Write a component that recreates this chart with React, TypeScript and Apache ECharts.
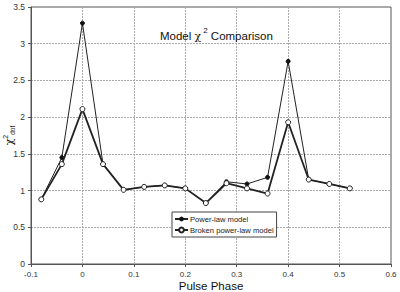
import React, { useEffect, useRef } from "react";
import * as echarts from "echarts";

const phases = [-0.08, -0.04, 0, 0.04, 0.08, 0.12, 0.16, 0.2, 0.24, 0.28, 0.32, 0.36, 0.4, 0.44, 0.48, 0.52];
const powerLaw = [0.88, 1.45, 3.28, 1.36, 1.01, 1.05, 1.07, 1.03, 0.83, 1.12, 1.09, 1.18, 2.76, 1.15, 1.09, 1.03];
const brokenPowerLaw = [0.88, 1.36, 2.11, 1.36, 1.01, 1.05, 1.07, 1.03, 0.83, 1.1, 1.03, 0.96, 1.93, 1.15, 1.09, 1.03];
const seriesNames = ["Power-law model", "Broken power-law model"];

export default function App() {
  const ref = useRef<HTMLDivElement>(null);
  useEffect(() => {
    if (!ref.current) return;
    const chart = echarts.init(ref.current, null, { renderer: "svg" });
    const font = "Liberation Sans, Arial, sans-serif";
    const serif = "DejaVu Serif, serif";
    chart.setOption({
      animation: false,
      backgroundColor: "#fff",
      textStyle: { fontFamily: font },
      title: {
        left: 155,
        top: 21,
        text: "{a|Model }{c|χ}{s|2}{a| Comparison}",
        textStyle: {
          fontWeight: "normal",
          rich: {
            a: { fontSize: 11.5, fontWeight: "normal", color: "#111", fontFamily: font, lineHeight: 16, verticalAlign: "bottom" },
            c: { fontSize: 11, fontWeight: "normal", color: "#111", fontFamily: serif, lineHeight: 16, verticalAlign: "bottom" },
            s: { fontSize: 8, fontWeight: "normal", color: "#111", fontFamily: font, lineHeight: 16, verticalAlign: "top", padding: [0, 0, 0, 2] },
          },
        },
      },
      grid: {
        left: 31,
        right: 9,
        top: 7,
        bottom: 28,
        containLabel: false,
        outerBoundsMode: "none",
        show: true,
        borderColor: "#555",
        borderWidth: 1,
      },
      legend: {
        left: 172,
        top: 212,
        orient: "vertical",
        backgroundColor: "#fff",
        borderColor: "#444",
        borderWidth: 1,
        borderRadius: 0,
        padding: [3, 3, 3, 2],
        itemGap: 3,
        itemWidth: 13,
        itemHeight: 6,
        textStyle: { fontSize: 7.6, color: "#222", fontFamily: font, padding: [0, 0, 0, -3] },
        data: seriesNames,
      },
      xAxis: {
        type: "value",
        min: -0.1,
        max: 0.6,
        interval: 0.1,
        name: "Pulse Phase",
        nameLocation: "middle",
        nameGap: 16,
        nameMoveOverlap: false,
        nameTextStyle: { fontSize: 11.5, color: "#111", fontFamily: font },
        axisLine: { show: true, onZero: false, lineStyle: { color: "#555" } },
        axisTick: { show: true, length: 3, lineStyle: { color: "#555" } },
        axisLabel: { fontSize: 8, color: "#333", margin: 6 },
        splitLine: { show: true, lineStyle: { color: "#aaa", type: [2, 1], width: 1 } },
      },
      yAxis: {
        type: "value",
        min: 0,
        max: 3.5,
        interval: 0.5,
        name: "{c|χ}{s|2}{d|dof}",
        nameLocation: "middle",
        nameRotate: 90,
        nameGap: 15,
        nameMoveOverlap: false,
        nameTextStyle: {
          rich: {
            c: { fontSize: 11, color: "#222", fontFamily: serif, lineHeight: 14, verticalAlign: "middle" },
            s: { fontSize: 7, color: "#222", fontFamily: font, lineHeight: 14, verticalAlign: "top" },
            d: { fontSize: 6.5, color: "#222", fontFamily: font, lineHeight: 14, verticalAlign: "bottom" },
          },
        },
        axisLine: { show: true, onZero: false, lineStyle: { color: "#555" } },
        axisTick: { show: true, length: 3, lineStyle: { color: "#555" } },
        axisLabel: { fontSize: 8.5, color: "#333", margin: 6 },
        splitLine: { show: true, lineStyle: { color: "#aaa", type: [2, 1], width: 1 } },
      },
      series: [
        {
          name: seriesNames[0],
          type: "line",
          data: phases.map((p, i) => [p, powerLaw[i]]),
          symbol: "circle",
          symbolSize: 4,
          itemStyle: { color: "#111", borderColor: "#111" },
          lineStyle: { color: "#222", width: 1 },
          z: 2,
        },
        {
          name: seriesNames[1],
          type: "line",
          data: phases.map((p, i) => [p, brokenPowerLaw[i]]),
          symbol: "circle",
          symbolSize: 5,
          itemStyle: { color: "#fff", borderColor: "#222", borderWidth: 1 },
          lineStyle: { color: "#222", width: 1.8 },
          z: 3,
        },
      ],
    });
    return () => chart.dispose();
  }, []);
  return <div ref={ref} style={{ position: "absolute", left: 0, top: 0, width: 400, height: 292 }} />;
}
